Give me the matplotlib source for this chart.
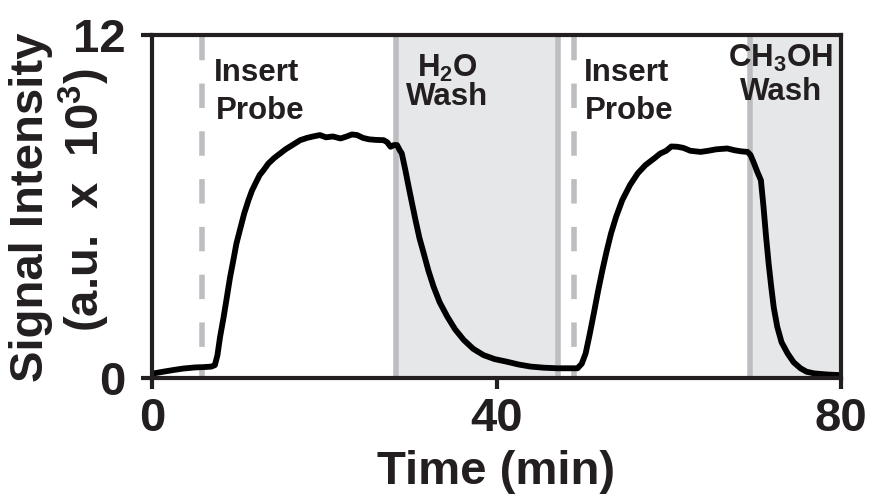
import matplotlib
matplotlib.use("Agg")
import matplotlib.pyplot as plt

# ---- data ----
time_min = [0.0, 1.3, 2.5, 3.6, 5.0, 6.0, 6.9, 7.3, 7.6, 7.9, 8.3, 8.7, 9.05, 9.45, 9.8,
            10.2, 10.7, 11.2, 11.6, 12.0, 12.5, 12.95, 13.5, 14.2, 14.9, 15.5, 16.3, 17.2,
            18.0, 18.7, 19.5, 20.2, 21.0, 21.9, 22.6, 23.2, 23.8, 24.5, 25.2, 26.0, 26.9,
            27.3, 27.7, 28.1, 28.45, 28.8, 29.0, 29.4, 29.8, 30.2, 30.6, 31.05, 31.55, 32.1,
            32.7, 33.4, 34.3, 35.2, 36.2, 37.3, 38.5, 39.8, 41.2, 42.6, 43.95, 45.5, 47.05,
            48.3, 49.4, 49.9, 50.35, 50.8, 51.3, 51.8, 52.3, 52.8, 53.3, 53.9, 54.6, 55.5,
            56.4, 57.3, 58.3, 59.0, 59.7, 60.3, 61.0, 61.7, 62.5, 63.7, 64.6, 65.5, 66.8,
            67.6, 68.4, 69.15, 69.5, 69.9, 70.3, 70.7, 71.0, 71.3, 71.6, 71.9, 72.2, 72.6,
            73.1, 73.8, 74.5, 75.3, 76.0, 76.9, 78.5, 80.0]
signal = [0.15, 0.22, 0.28, 0.33, 0.37, 0.38, 0.40, 0.45, 0.8, 1.43, 2.1, 2.84, 3.5, 4.13, 4.7,
          5.17, 5.75, 6.22, 6.55, 6.8, 7.1, 7.27, 7.5, 7.7, 7.86, 8.0, 8.15, 8.32,
          8.4, 8.45, 8.5, 8.42, 8.45, 8.38, 8.45, 8.52, 8.5, 8.4, 8.35, 8.33, 8.32,
          8.25, 8.09, 8.15, 8.15, 7.95, 7.86, 7.3, 6.69, 6.1, 5.52, 4.9, 4.36, 3.75,
          3.19, 2.65, 2.14, 1.7, 1.33, 1.02, 0.80, 0.66, 0.57, 0.47, 0.40, 0.36, 0.34,
          0.34, 0.34, 0.5, 0.86, 1.5, 2.26, 3.05, 3.78, 4.45, 5.06, 5.65, 6.22, 6.75,
          7.16, 7.45, 7.68, 7.85, 7.95, 8.1, 8.09, 8.05, 7.95, 7.91, 7.95, 8.0, 8.03,
          7.97, 7.93, 7.91, 7.8, 7.51, 7.2, 6.92, 6.0, 4.94, 4.0, 3.19, 2.45, 1.79,
          1.25, 0.86, 0.55, 0.34, 0.22, 0.16, 0.12, 0.10]

probe_times = [5.8, 49.0]          # dashed "Insert Probe" markers
wash_starts = [28.3, 69.4]
wash_ends = [47.1, 80.0]
wash_labels = [("H$_\\mathregular{2}$O", "Wash"), ("CH$_\\mathregular{3}$OH", "Wash")]
probe_label = ("Insert", "Probe")
y_label_lines = ("Signal Intensity", "(a.u.  x  10$^\\mathregular{3}$)")
x_label = "Time (min)"
x_ticks = [0, 40, 80]
y_ticks = [0, 12]

# ---- style ----
plt.rcParams['font.family'] = ['Liberation Sans', 'DejaVu Sans']
plt.rcParams['font.weight'] = 'bold'
plt.rcParams['mathtext.fontset'] = 'custom'
plt.rcParams['mathtext.rm'] = 'Liberation Sans:bold'
plt.rcParams['mathtext.it'] = 'Liberation Sans:bold'
plt.rcParams['mathtext.bf'] = 'Liberation Sans:bold'
plt.rcParams['mathtext.sf'] = 'Liberation Sans:bold'

TXT = '#231f20'
SHADE = '#e6e7e9'
GRAY = '#bdbec1'

fig = plt.figure(figsize=(8.69, 5.01), dpi=100)
ax = fig.add_axes([152/869, 1-378/501, (841-152)/869, (378-35)/501])

for s, e in zip(wash_starts, wash_ends):
    ax.axvspan(s, e, color=SHADE, lw=0, zorder=0)
    ax.axvline(s, color=GRAY, lw=4, zorder=1)
    if e < 80:
        ax.axvline(e, color=GRAY, lw=4, zorder=1)
for p in probe_times:
    ax.axvline(p, color=GRAY, lw=4, zorder=1, ls=(3, (4.4, 4.2)), dash_capstyle='butt')

ax.plot(time_min, signal, color='black', lw=4.2, zorder=3, solid_joinstyle='round')

ax.set_xlim(0, 80)
ax.set_ylim(0, 12)
ax.set_xticks(x_ticks)
ax.set_yticks(y_ticks)
ax.set_xticklabels([str(v) for v in x_ticks])
ax.set_yticklabels([str(v) for v in y_ticks])
ax.tick_params(axis='both', direction='out', length=8, width=3, color=TXT,
               labelsize=34, labelcolor=TXT, pad=6)
ax.tick_params(axis='y', pad=11)
for sp in ax.spines.values():
    sp.set_linewidth(3)
    sp.set_color(TXT)
    sp.set_zorder(5)

ax.set_xlabel(x_label, fontsize=34, color=TXT, fontweight='bold', labelpad=6)

# y label: two separately placed lines
def px_axes(xp, yp):
    return ((xp - 152) / 689, (378 - yp) / 343)

for line, (cxp, cyp) in zip(y_label_lines, [(31, 207), (84, 200)]):
    xa, ya = px_axes(cxp, cyp)
    ax.text(xa, ya, line, transform=ax.transAxes, rotation=90, fontsize=34,
            color=TXT, fontweight='bold', ha='center', va='center', clip_on=False)

# annotations
def px(xp, yp):
    return ((xp - 152) / 689 * 80, (378 - yp) / 343 * 12)

for cx in [257, 626]:
    x1, y1 = px(cx, 81)
    ax.text(x1, y1, probe_label[0], fontsize=22.5, color=TXT, ha='center', va='baseline', zorder=6)
    x2, y2 = px(cx + 3, 119)
    ax.text(x2, y2, probe_label[1], fontsize=22.5, color=TXT, ha='center', va='baseline', zorder=6)

for (l1, l2), cx in zip(wash_labels, [447, 781]):
    ya = 77 if cx < 600 else 67
    yb = 105 if cx < 600 else 100
    x1, y1 = px(cx, ya)
    ax.text(x1, y1, l1, fontsize=22.5, color=TXT, ha='center', va='baseline', zorder=6)
    x2, y2 = px(cx, yb)
    ax.text(x2, y2, l2, fontsize=22.5, color=TXT, ha='center', va='baseline', zorder=6)

fig.savefig('out.png', dpi=100)
